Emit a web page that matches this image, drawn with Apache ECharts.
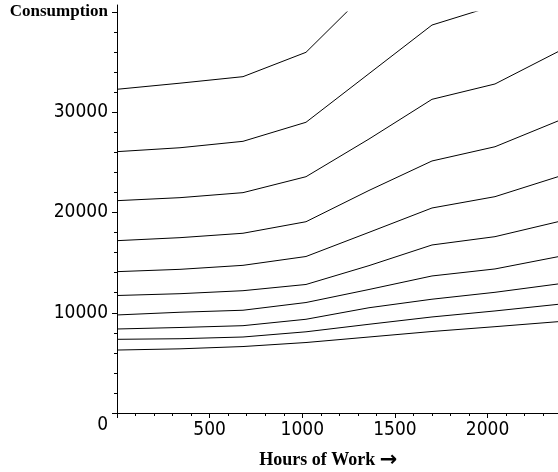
<!DOCTYPE html>
<html>
<head>
<meta charset="utf-8">
<script src="https://cdn.jsdelivr.net/npm/echarts@6/dist/echarts.min.js"></script>
<style>
html,body{margin:0;padding:0;background:#fff;}
#main{width:558px;height:472px;}
</style>
</head>
<body>
<div id="main"></div>
<script>
var hours = [0, 340, 680, 1020, 1360, 1700, 2040, 2380];
var curve1 = [32290, 32900, 33550, 35980, 42200, 48000, 52000, 56000];
var curve2 = [26070, 26460, 27100, 29000, 33850, 38700, 40650, 44000];
var curve3 = [21180, 21480, 21980, 23570, 27330, 31290, 32820, 36040];
var curve4 = [17190, 17490, 17930, 19080, 22200, 25140, 26560, 29130];
var curve5 = [14100, 14330, 14730, 15610, 18020, 20450, 21580, 23570];
var curve6 = [11720, 11900, 12200, 12820, 14700, 16760, 17590, 19080];
var curve7 = [9780, 10050, 10250, 11020, 12320, 13670, 14370, 15590];
var curve8 = [8380, 8530, 8710, 9350, 10500, 11350, 12040, 12870];
var curve9 = [7350, 7410, 7580, 8100, 8850, 9580, 10180, 10840];
var curve10 = [6280, 6400, 6630, 7030, 7580, 8130, 8610, 9110];
var curves = [curve1, curve2, curve3, curve4, curve5, curve6, curve7, curve8, curve9, curve10];

var yTitle = 'Consumption';
var xTitle = 'Hours of Work';

var numFont = "'Liberation Sans Narrow', 'DejaVu Sans Condensed', 'Liberation Sans', sans-serif";
var serif = "'Liberation Serif', 'DejaVu Serif', serif";

var chart = echarts.init(document.getElementById('main'), null, {renderer: 'canvas'});

var series = curves.map(function (c) {
  return {
    type: 'line',
    data: hours.map(function (h, i) { return [h, c[i]]; }),
    symbol: 'none',
    lineStyle: {color: '#000', width: 1},
    clip: true,
    silent: true
  };
});

chart.setOption({
  animation: false,
  backgroundColor: '#fff',
  grid: [
    {left: 117, top: 12, height: 401, width: 444.7, containLabel: false, outerBoundsMode: 'none'},
    {left: 117, top: 5, height: 408, width: 444.7, containLabel: false, outerBoundsMode: 'none'}
  ],
  xAxis: [{
    type: 'value',
    gridIndex: 0,
    min: 0,
    max: 2400,
    interval: 500,
    name: '{t|' + xTitle + ' }{a|\u2192}',
    nameLocation: 'middle',
    nameGap: 37,
    nameTextStyle: {
      padding: [0, 22, 0, 0],
      rich: {
        t: {fontFamily: serif, fontWeight: 'bold', fontSize: 18, color: '#000'},
        a: {fontFamily: "'DejaVu Sans', sans-serif", fontWeight: 'bold', fontSize: 21, color: '#000'}
      }
    },
    axisLine: {lineStyle: {color: '#000', width: 1}},
    axisTick: {length: 5, lineStyle: {color: '#000'}},
    minorTick: {show: true, splitNumber: 5, length: 3, lineStyle: {color: '#000'}},
    splitLine: {show: false},
    axisLabel: {
      color: '#000', fontFamily: numFont, fontSize: 19, margin: 8,
      showMaxLabel: false,
      formatter: function (v) { return v === 0 || v === 2400 ? '' : String(v); }
    }
  }, {
    type: 'value',
    gridIndex: 1,
    show: false,
    min: 0,
    max: 1
  }],
  yAxis: [{
    type: 'value',
    gridIndex: 0,
    min: 0,
    max: 40000,
    interval: 10000,
    axisLine: {show: true, lineStyle: {color: '#000', width: 1}},
    axisTick: {show: true, length: 5, lineStyle: {color: '#000'}},
    minorTick: {show: true, splitNumber: 5, length: 3, lineStyle: {color: '#000'}},
    splitLine: {show: false},
    axisLabel: {
      color: '#000', fontFamily: numFont, fontSize: 19, margin: 9,
      formatter: function (v) {
        if (v === 40000) return '{c|' + yTitle + '}';
        if (v === 0) return '{z|0}';
        return String(v);
      },
      rich: {
        c: {fontFamily: serif, fontWeight: 'bold', fontSize: 17, color: '#000'},
        z: {fontFamily: numFont, fontSize: 19, color: '#000', padding: [25, 0, 0, 0]}
      }
    }
  }, {
    type: 'value',
    gridIndex: 1,
    min: 0,
    max: 1,
    axisLine: {show: true, lineStyle: {color: '#000', width: 1}},
    axisTick: {show: false},
    axisLabel: {show: false},
    splitLine: {show: false}
  }],
  series: series
});
</script>
</body>
</html>
